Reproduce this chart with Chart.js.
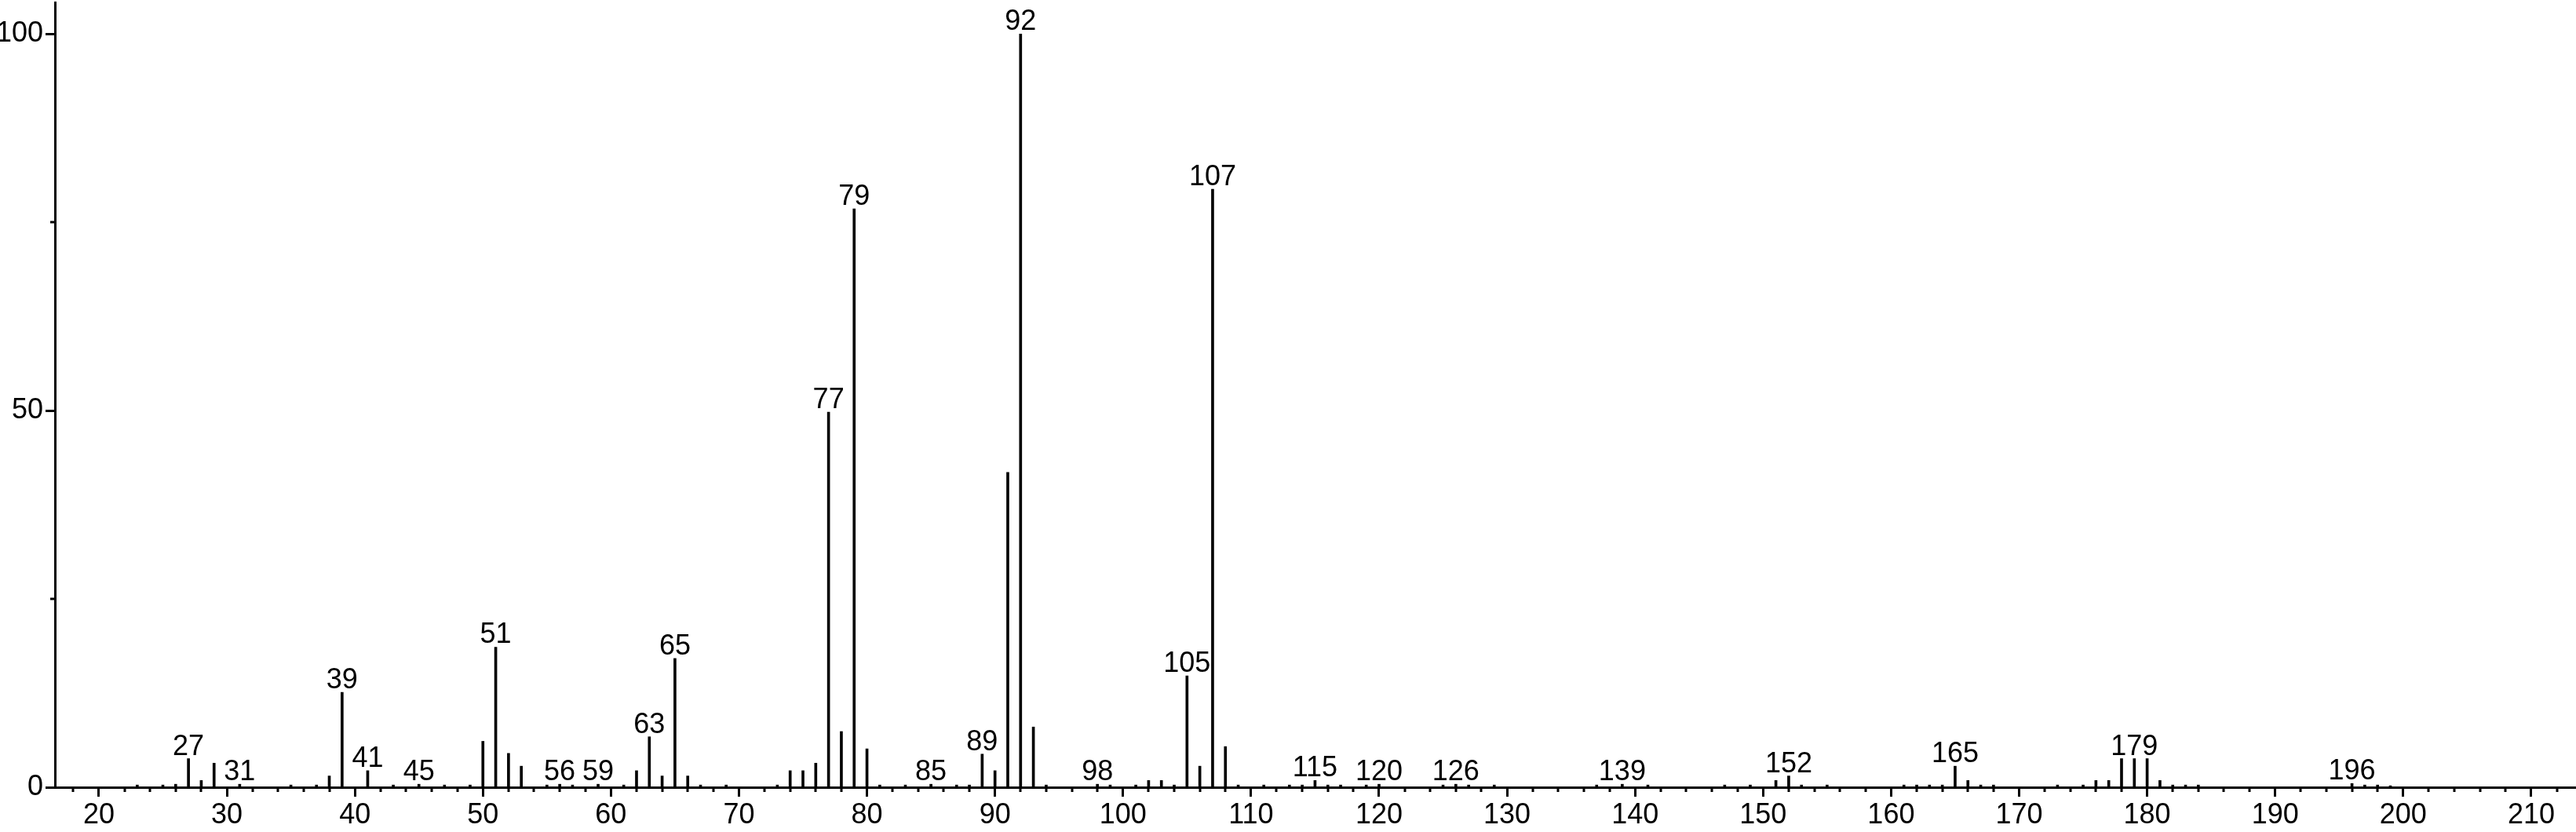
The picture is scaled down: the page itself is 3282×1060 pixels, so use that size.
<!DOCTYPE html>
<html>
<head>
<meta charset="utf-8">
<script src="https://cdn.jsdelivr.net/npm/chart.js@4.4.1/dist/chart.umd.min.js"></script>
<style>
html,body{margin:0;padding:0;background:#fff;}
#wrap{width:3282px;height:1060px;position:relative;}
</style>
</head>
<body>
<div id="wrap"><canvas id="c" width="3282" height="1060"></canvas></div>
<script>
// m/z values and relative intensities
const mz = [23,25,26,27,28,29,31,35,37,38,39,41,43,45,47,49,50,51,52,53,55,56,57,59,61,62,63,64,65,66,67,69,73,74,75,76,77,78,79,80,81,83,85,87,88,89,90,91,92,93,94,98,99,101,102,103,104,105,106,107,108,109,111,113,114,115,116,117,119,120,125,126,127,129,137,139,141,147,149,151,152,153,155,161,162,163,164,165,166,167,168,173,175,176,177,178,179,180,181,182,183,184,196,197,198,199];
const intensity = [0.3,0.3,0.4,3.8,0.9,3.2,0.4,0.3,0.3,1.5,12.6,2.2,0.3,0.4,0.3,0.3,6.1,18.6,4.5,2.8,0.3,0.4,0.3,0.4,0.3,2.2,6.7,1.5,17.1,1.5,0.3,0.3,0.3,2.2,2.2,3.2,49.8,7.4,76.8,5.1,0.3,0.3,0.4,0.3,0.3,4.4,2.2,41.8,100,8.0,0.3,0.4,0.3,0.3,0.9,0.9,0.3,14.8,2.8,79.4,5.4,0.3,0.3,0.3,0.3,0.9,0.3,0.3,0.3,0.4,0.3,0.4,0.3,0.3,0.3,0.4,0.3,0.3,0.3,0.9,1.5,0.3,0.3,0.3,0.3,0.3,0.3,2.8,0.9,0.3,0.3,0.3,0.3,0.9,0.9,3.8,3.8,3.8,0.9,0.3,0.3,0.3,0.5,0.3,0.3,0.2];
const labeledPeaks = [27,31,39,41,45,51,56,59,63,65,77,79,85,89,92,98,105,107,115,120,126,139,152,165,179,196];
const xTickLabels = [20,30,40,50,60,70,80,90,100,110,120,130,140,150,160,170,180,190,200,210];
const yTickLabels = [0,50,100];
const yMinorTicks = [25,75];

const FONT = '"Liberation Sans Narrow", "Arial Narrow", "Liberation Sans", Arial, sans-serif';
const FSIZE = 36;

const xMinorTicks = [];
for (let v = 18; v <= 212; v += 2) if (v % 10 !== 0) xMinorTicks.push(v);

const minorTicksPlugin = {
  id: 'minorTicks',
  afterDraw(chart) {
    const ctx = chart.ctx, xs = chart.scales.x, ys = chart.scales.y, a = chart.chartArea;
    ctx.save();
    ctx.strokeStyle = '#000';
    ctx.lineWidth = 3;
    ctx.beginPath();
    xMinorTicks.forEach(v => {
      const px = Math.round(xs.getPixelForValue(v));
      ctx.moveTo(px, a.bottom);
      ctx.lineTo(px, a.bottom + 6);
    });
    yMinorTicks.forEach(v => {
      const py = Math.round(ys.getPixelForValue(v));
      ctx.moveTo(a.left - 6, py);
      ctx.lineTo(a.left, py);
    });
    ctx.stroke();
    ctx.restore();
  }
};

const peakLabelPlugin = {
  id: 'peakLabels',
  afterDatasetsDraw(chart) {
    const ctx = chart.ctx, xs = chart.scales.x, ys = chart.scales.y;
    ctx.save();
    ctx.fillStyle = '#000';
    ctx.font = FSIZE + 'px ' + FONT;
    ctx.textAlign = 'center';
    ctx.textBaseline = 'alphabetic';
    labeledPeaks.forEach(m => {
      const i = mz.indexOf(m);
      if (i < 0) return;
      const px = xs.getPixelForValue(m);
      const py = ys.getPixelForValue(intensity[i]);
      ctx.fillText(String(m), px, py - 5);
    });
    ctx.restore();
  }
};

function noPad(s) { s.paddingTop = 0; s.paddingBottom = 0; s.paddingLeft = 0; s.paddingRight = 0; }

new Chart(document.getElementById('c'), {
  type: 'bar',
  data: {
    datasets: [{
      data: mz.map((m, i) => ({x: m, y: intensity[i]})),
      backgroundColor: '#000',
      borderWidth: 0,
      barThickness: 3
    }]
  },
  options: {
    responsive: false,
    animation: false,
    devicePixelRatio: 1,
    layout: {padding: {top: 3, right: 0, left: 0, bottom: 0}},
    plugins: {legend: {display: false}, tooltip: {enabled: false}},
    scales: {
      x: {
        type: 'linear',
        min: 16.57,
        max: 213.5,
        offset: false,
        afterBuildTicks: s => { s.ticks = xTickLabels.map(v => ({value: v})); },
        afterFit: s => { s.height = 57; noPad(s); },
        grid: {display: true, offset: false, drawOnChartArea: false, drawTicks: true, tickLength: 12, tickWidth: 3, tickColor: '#000'},
        border: {display: true, color: '#000', width: 3},
        ticks: {color: '#000', font: {family: FONT, size: FSIZE}, padding: 2, maxRotation: 0, autoSkip: false}
      },
      y: {
        type: 'linear',
        min: 0,
        max: 104.2,
        afterBuildTicks: s => { s.ticks = yTickLabels.map(v => ({value: v})); },
        afterFit: s => { s.width = 70; noPad(s); },
        grid: {display: true, drawOnChartArea: false, drawTicks: true, tickLength: 12, tickWidth: 3, tickColor: '#000'},
        border: {display: true, color: '#000', width: 3},
        ticks: {color: '#000', font: {family: FONT, size: FSIZE}, padding: 3, autoSkip: false}
      }
    }
  },
  plugins: [minorTicksPlugin, peakLabelPlugin]
});
</script>
</body>
</html>
